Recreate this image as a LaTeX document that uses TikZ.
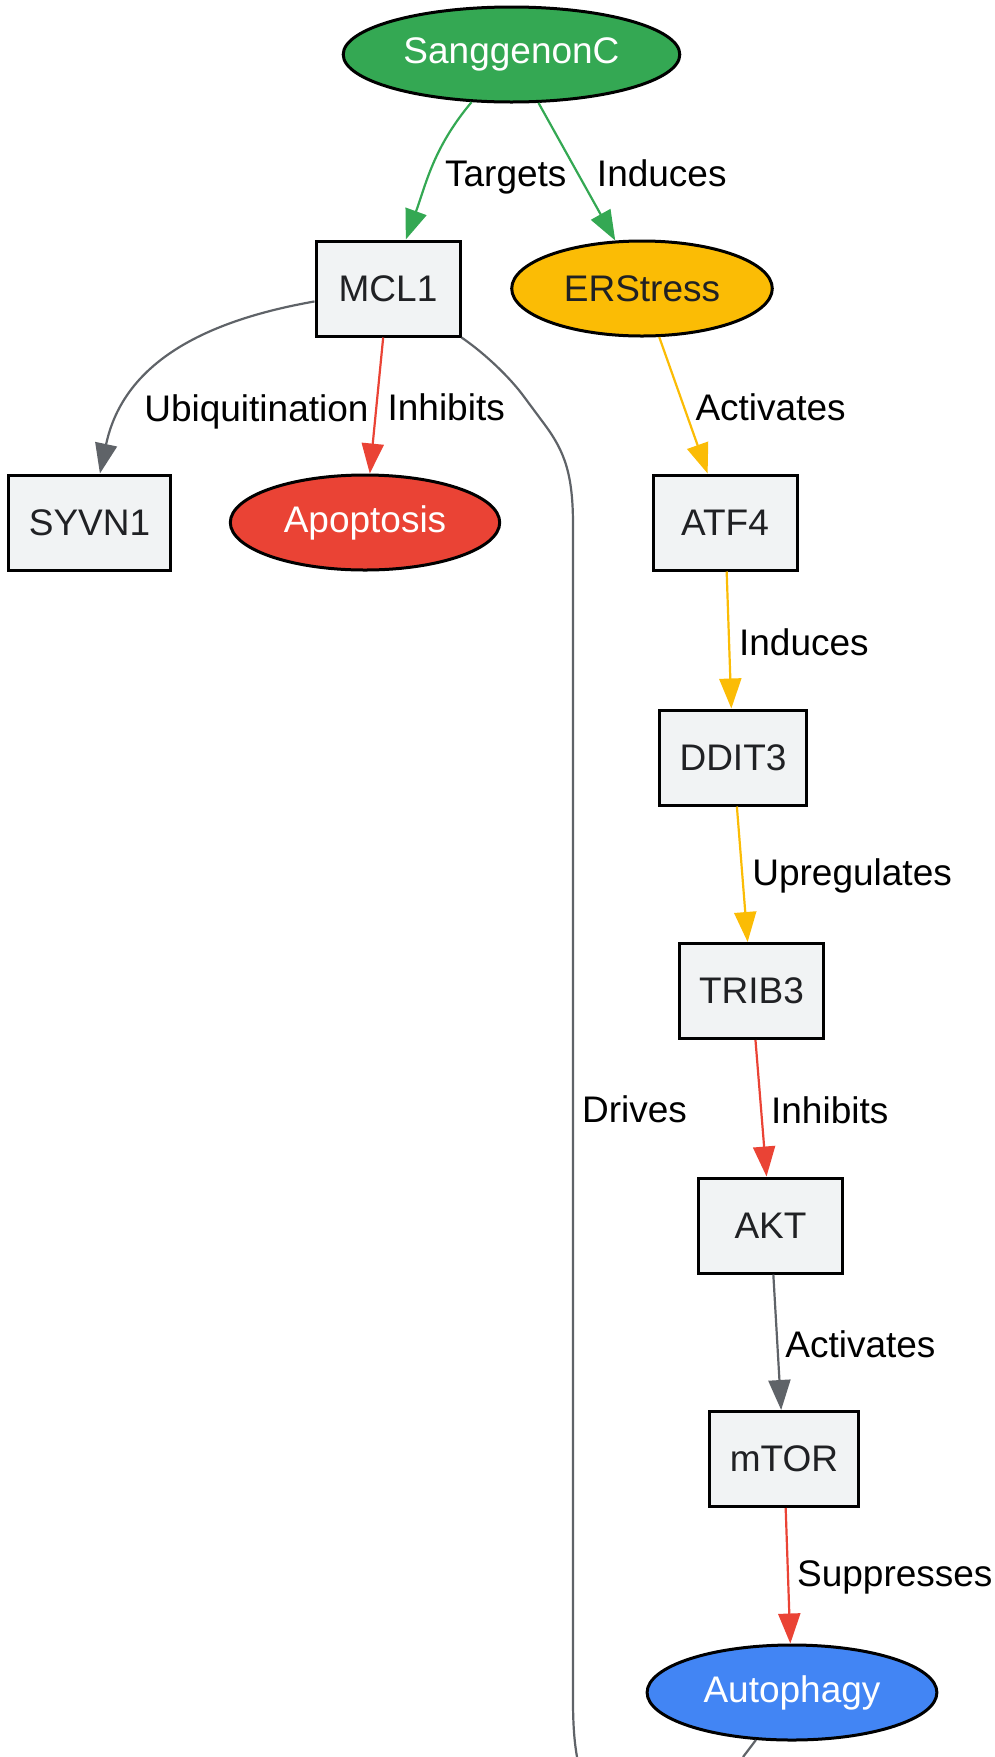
\documentclass[tikz,border=0pt]{standalone}
\usepackage{fontspec}
\setmainfont{Liberation Sans}
\usetikzlibrary{arrows.meta,shapes.geometric}

\definecolor{gvgreen}{HTML}{34A853}
\definecolor{gvyellow}{HTML}{FBBC05}
\definecolor{gvred}{HTML}{EA4335}
\definecolor{gvblue}{HTML}{4285F4}
\definecolor{gvgray}{HTML}{5F6368}
\definecolor{boxfill}{HTML}{F1F3F4}
\definecolor{boxtext}{HTML}{202124}

\newcommand{\gvfont}{\fontsize{18.5}{22}\selectfont}

\tikzset{
    box/.style={draw=black,line width=1.5pt,fill=boxfill,text=boxtext,
        minimum width=72pt,minimum height=47.5pt,inner xsep=10pt,font=\gvfont},
    oval/.style={ellipse,draw=black,line width=1.5pt,minimum height=47.5pt,
        inner xsep=7pt,font=\gvfont},
    lbl/.style={anchor=west,inner sep=0pt,xshift=4.5pt,yshift=-1pt,
        text=black,font=\gvfont},
    gedge/.style={color=gvgreen,line width=1.1pt},
    yedge/.style={color=gvyellow,line width=1.1pt},
    redge/.style={color=gvred,line width=1.1pt},
    kedge/.style={color=gvgray,line width=1.1pt},
}

\begin{document}
\begin{tikzpicture}[x=0.5pt,y=-0.5pt,>={Triangle[length=15pt,width=11pt]}]
    \useasboundingbox (0,0) rectangle (995,1757);

    \node[oval,fill=gvgreen,text=white,inner xsep=5.5pt] at (511.5,54.5) (sang) {SanggenonC};
    
    \node[box] at (388,288.5) (mcl) {MCL1};
    \node[oval,fill=gvyellow,text=boxtext] at (642,288.5) (ers) {ERStress};
    
    \node[box] at (89.5,522.5) (syvn) {SYVN1};
    \node[oval,fill=gvred,text=white] at (365,522.5) (apop) {Apoptosis};
    \node[box] at (725,522.5) (atf) {ATF4};
    
    \node[box] at (733,757.5) (ddit) {DDIT3};
    \node[box] at (751.5,991) (trib) {TRIB3};
    \node[box] at (770.5,1225.5) (akt) {AKT};
    \node[box] at (784,1459) (mtor) {mTOR};
    \node[oval,fill=gvblue,text=white] at (792,1692.5) (auto) {Autophagy};
    
    % loose ends, cut off by the page
    \coordinate (drvend) at (577,1757);
    \coordinate (autoend) at (743,1757);

	\path[->,gedge] (sang) edge[out=-130,in=70] node [lbl,xshift=1.5pt,yshift=-4.5pt] {Targets} (mcl);
	\path[->,gedge] (sang) edge node [lbl,xshift=5pt] {Induces} (ers);
	
	\path[->,kedge] (mcl) edge[out=190,in=78,looseness=1.05] node [lbl,pos=0.74,xshift=2.5pt,yshift=-4.5pt] {Ubiquitination} (syvn);
	\path[->,redge] (mcl) edge node [lbl,xshift=0.5pt] {Inhibits} (apop);
	\path[->,yedge] (ers) edge node [lbl,xshift=1pt] {Activates} (atf);
	
	\path[->,yedge] (atf) edge node [lbl] {Induces} (ddit);
	\path[->,yedge] (ddit) edge node [lbl] {Upregulates} (trib);
	\path[->,redge] (trib) edge node [lbl] {Inhibits} (akt);
	\path[->,kedge] (akt) edge node [lbl,xshift=-1pt] {Activates} (mtor);
	\path[->,redge] (mtor) edge node [lbl,xshift=-0.5pt] {Suppresses} (auto);
	
	\draw[kedge] (mcl.south east) .. controls (480,350) and (505,372) .. (522,394)
	    -- (545,425) .. controls (565,452) and (573,475) .. (573,525)
	    -- node [lbl,xshift=-0.5pt,yshift=2.5pt] {Drives} (573,1700)
	    .. controls (573,1730) and (575,1745) .. (drvend);
	\path[kedge] (auto) edge (autoend);
\end{tikzpicture}
\end{document}
